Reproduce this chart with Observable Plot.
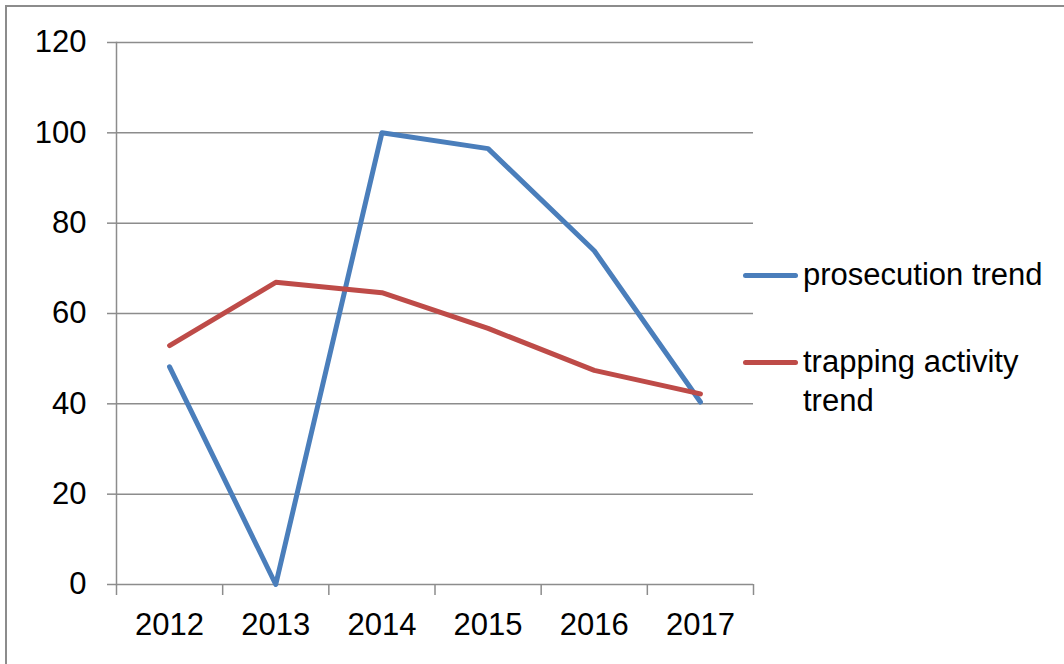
<!DOCTYPE html>
<html>
<head>
<meta charset="utf-8">
<script src="https://cdn.jsdelivr.net/npm/d3@7"></script>
<script src="https://cdn.jsdelivr.net/npm/@observablehq/plot@0.6"></script>
<style>
  html, body { margin: 0; padding: 0; background: #fff; }
  #wrap { position: relative; width: 1064px; height: 664px; overflow: hidden; font-family: "Liberation Sans", Arial, sans-serif; }
  #border { position: absolute; left: 5px; top: 5px; width: 1100px; height: 700px; border-left: 2.5px solid #8c8c8c; border-top: 2.5px solid #8c8c8c; box-sizing: border-box; }
  #chart { position: absolute; left: 0; top: 0; }
  #legend { position: absolute; left: 743px; top: 255px; font-size: 31px; color: #000; }
  .item { display: flex; align-items: flex-start; margin-bottom: 48px; }
  .swatch { width: 55px; height: 5px; border-radius: 3px; margin-top: 18px; margin-right: 5px; flex: none; }
  .lbl { line-height: 39px; width: 250px; }
</style>
</head>
<body>
<div id="wrap">
  <div id="border"></div>
  <div id="chart"></div>
  <div id="legend"></div>
</div>
<script>
const years = [2012, 2013, 2014, 2015, 2016, 2017];
const prosecution = [48.2, 0, 100, 96.5, 73.9, 40.4];
const trapping = [52.9, 66.9, 64.6, 56.7, 47.4, 42.2];
const seriesNames = ["prosecution trend", "trapping activity trend"];
const seriesColors = ["#4a7ebb", "#be4b48"];
const yTicks = [0, 20, 40, 60, 80, 100, 120];

const rows = [];
years.forEach((y, i) => {
  rows.push({year: y, value: prosecution[i], series: seriesNames[0]});
  rows.push({year: y, value: trapping[i], series: seriesNames[1]});
});
const boundaries = [years[0] - 0.5, ...years.map(y => y + 0.5)];

const chart = Plot.plot({
  width: 1064,
  height: 664,
  marginTop: 42,
  marginBottom: 80,
  marginLeft: 116,
  marginRight: 311,
  style: {fontFamily: '"Liberation Sans", Arial, sans-serif', fontSize: "31px", color: "#000", background: "transparent"},
  x: {domain: [years[0] - 0.5, years[years.length - 1] + 0.5], axis: null},
  y: {domain: [0, 120], axis: null},
  color: {domain: seriesNames, range: seriesColors},
  marks: [
    Plot.gridY(yTicks, {stroke: "#8c8c8c", strokeOpacity: 1, strokeWidth: 1.5}),
    Plot.axisY(yTicks, {tickSize: 9, tickPadding: 21, stroke: "#8c8c8c", strokeWidth: 1.5, fill: "#000", fontSize: 31, tickFormat: d => d, label: null}),
    Plot.axisX(boundaries, {tickSize: 11, stroke: "#8c8c8c", strokeWidth: 1.5, text: null, label: null}),
    Plot.axisX(years, {tickSize: 0, tickPadding: 28, fill: "#000", fontSize: 31, tickFormat: d => String(d), label: null}),
    Plot.frame({anchor: "left", stroke: "#8c8c8c", strokeWidth: 1.5}),
    Plot.line(rows, {x: "year", y: "value", z: "series", stroke: "series", strokeWidth: 5, strokeLinejoin: "round", strokeLinecap: "round"})
  ]
});
document.getElementById("chart").appendChild(chart);

const legend = document.getElementById("legend");
const legendLabels = ["prosecution trend", "trapping activity<br>trend"];
seriesNames.forEach((name, i) => {
  const item = document.createElement("div");
  item.className = "item";
  item.innerHTML = `<div class="swatch" style="background:${seriesColors[i]}"></div><div class="lbl">${legendLabels[i]}</div>`;
  legend.appendChild(item);
});
</script>
</body>
</html>
